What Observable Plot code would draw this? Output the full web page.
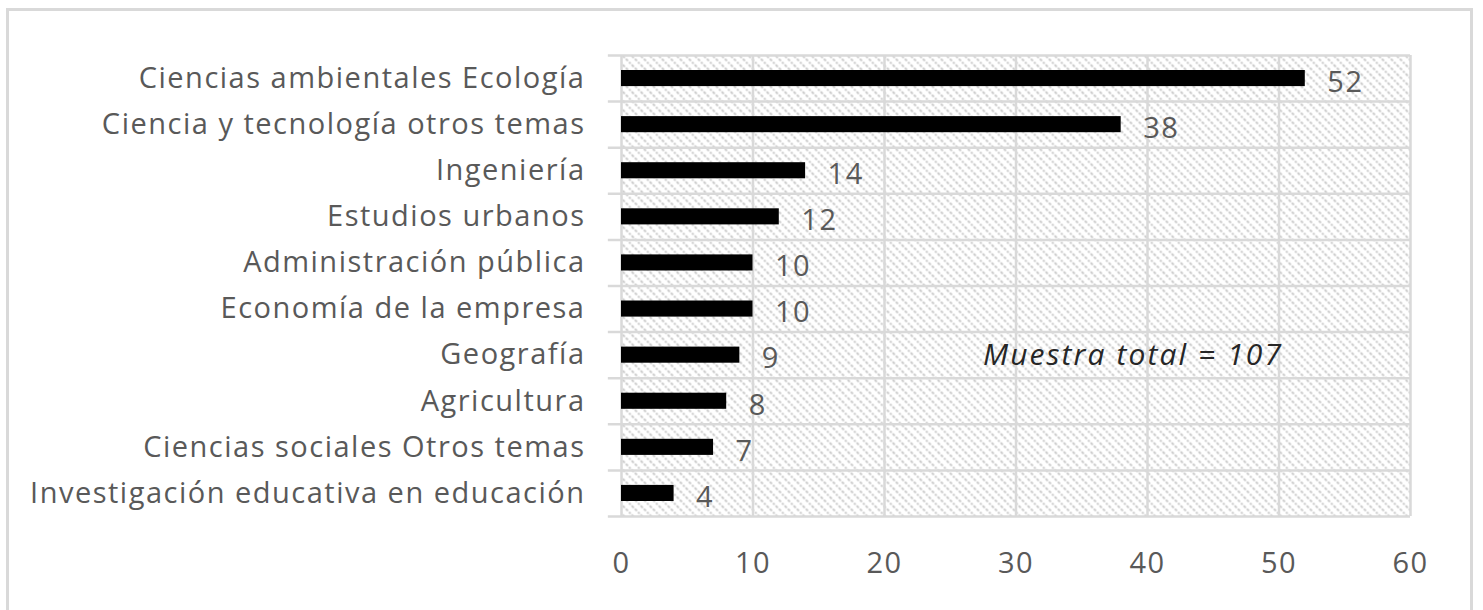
<!DOCTYPE html>
<html>
<head>
<meta charset="utf-8">
<script src="https://cdn.jsdelivr.net/npm/d3@7"></script>
<script src="https://cdn.jsdelivr.net/npm/@observablehq/plot@0.6"></script>
<style>
  html, body { margin: 0; padding: 0; background: #fff; }
  #wrap { position: relative; width: 1483px; height: 610px; overflow: hidden; }
  #border { position: absolute; left: 6px; top: 8px; width: 1467px; height: 620px; border: 3px solid #d9d9d9; box-sizing: border-box; }
  #chart { position: absolute; left: 0; top: 0; }
</style>
</head>
<body>
<div id="wrap"><div id="border"></div><div id="chart"></div></div>
<script>
const categories = [
  "Ciencias ambientales Ecología",
  "Ciencia y tecnología otros temas",
  "Ingeniería",
  "Estudios urbanos",
  "Administración pública",
  "Economía de la empresa",
  "Geografía",
  "Agricultura",
  "Ciencias sociales Otros temas",
  "Investigación educativa en educación"
];
const values = [52, 38, 14, 12, 10, 10, 9, 8, 7, 4];
const xTicks = [0, 10, 20, 30, 40, 50, 60];
const annotation = [{label: "Muestra total = 107", x: 38.9, y: 6.5}];

const data = categories.map((c, i) => ({category: c, value: values[i], i}));
const boundaries = d3.range(categories.length + 1);

const font = "'Open Sans', sans-serif";
const gray = "#595959";
const grid = "#d9d9d9";

const chart = Plot.plot({
  width: 1483,
  height: 610,
  marginLeft: 621,
  marginRight: 73,
  marginTop: 55,
  marginBottom: 94,
  style: {fontFamily: font, background: "transparent"},
  x: {domain: [0, 60], ticks: xTicks},
  y: {domain: [0, categories.length], reverse: true, axis: null},
  marks: [
    Plot.frame({fill: "url(#hatch)", stroke: null}),
    Plot.ruleX(xTicks, {stroke: grid, strokeWidth: 2.5}),
    Plot.ruleY(boundaries, {x1: -1, x2: 60, stroke: grid, strokeWidth: 2.5}),
    Plot.rectX(data, {x1: 0, x2: "value", y1: "i", y2: d => d.i + 1, insetTop: 15, insetBottom: 15, fill: "black"}),
    Plot.text(data, {x: "value", y: d => d.i + 0.5, text: d => String(d.value), dx: 22, dy: 4, textAnchor: "start", fontSize: 29, fill: gray, className: "spaced"}),
    Plot.text(data, {x: 0, y: d => d.i + 0.5, text: "category", dx: -36, textAnchor: "end", fontSize: 29, fill: gray, className: "spaced"}),
    Plot.text(annotation, {x: "x", y: "y", text: "label", fontSize: 30, fontStyle: "italic", fill: "#262626", className: "annot"}),
    Plot.axisX(xTicks, {tickSize: 0, tickPadding: 36, fontSize: 29, fill: gray, tickFormat: d => String(d), className: "spaced"})
  ]
});

const style = document.createElement("style");
style.textContent = ".spaced text { letter-spacing: 1.5px; } .annot text { letter-spacing: 2.1px; }";
document.head.appendChild(style);

const defs = d3.create("svg:defs");
const pat = defs.append("pattern")
  .attr("id", "hatch")
  .attr("patternUnits", "userSpaceOnUse")
  .attr("width", 9).attr("height", 9);
pat.append("rect").attr("width", 9).attr("height", 9).attr("fill", "white");
pat.append("path")
  .attr("d", "M-2,-2 L11,11 M-2,7 L2,11 M7,-2 L11,2")
  .attr("stroke", "#c6c6c6")
  .attr("stroke-width", 1.8)
  .attr("stroke-dasharray", "3,1.5");
chart.insertBefore(defs.node(), chart.firstChild);

document.getElementById("chart").appendChild(chart);
</script>
</body>
</html>
